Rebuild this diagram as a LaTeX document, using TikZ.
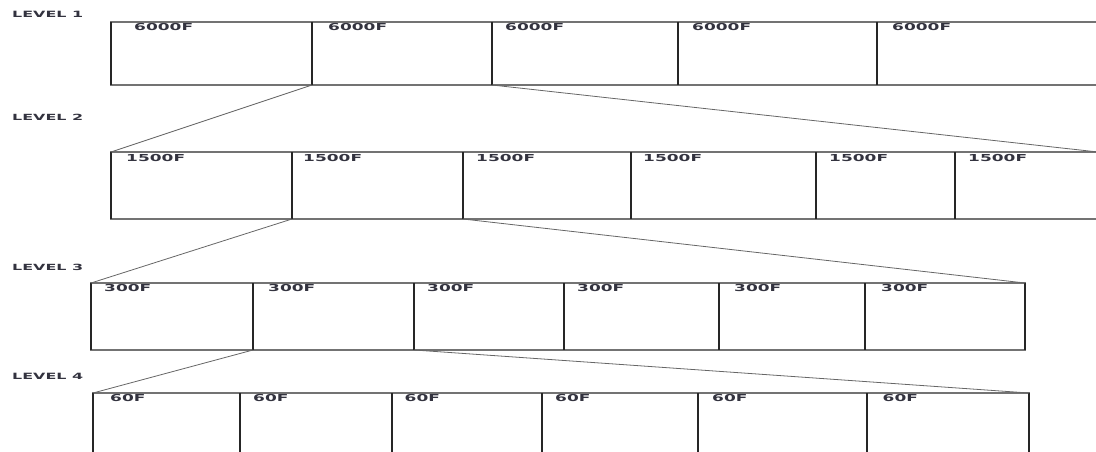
\documentclass[tikz,border=0pt]{standalone}
\usepackage{fontspec}
\usepackage{graphicx}
\newfontfamily\lf{DejaVu Sans}
\definecolor{txt}{HTML}{33333F}
\begin{document}
\begin{tikzpicture}[x=1pt,y=-1pt,
  cell/.style={draw=black!55,line width=1.2pt,rectangle,inner sep=0pt,outer sep=0pt,anchor=north west},
  sep/.style={draw=black!85,line width=1.7pt},
  conn/.style={draw=black!60,line width=0.8pt},
  num/.style={anchor=base west,inner sep=0pt,text=txt,font=\lf\bfseries\fontsize{9.6}{10}\selectfont},
  lvl/.style={anchor=west,inner sep=0pt,text=txt,font=\lf\bfseries\fontsize{8}{9}\selectfont}]
\useasboundingbox (0,0) rectangle (1096,452);
\clip (0,0) rectangle (1096,452);
% level labels
\node[lvl] (L1) at (12,14) {\resizebox{71pt}{6.3pt}{LEVEL 1}};
\node[lvl] (L2) at (12,117.3) {\resizebox{71pt}{6.3pt}{LEVEL 2}};
\node[lvl] (L3) at (12,267.3) {\resizebox{71pt}{6.3pt}{LEVEL 3}};
\node[lvl] (L4) at (12,376.7) {\resizebox{71pt}{6.3pt}{LEVEL 4}};
% level 1
\foreach \x/\nx/\o [count=\i] in {111/312/23, 312/492/16, 492/678/13, 678/877/14, 877/1098/15}{
  \node[cell,minimum width={\nx-\x},minimum height=63] (r1c\i) at (\x,22) {};
  \node[num] (t1c\i) at ([xshift=\o pt,yshift=-9pt]r1c\i.north west) {\scalebox{1.77}[1]{6000F}};
  \draw[sep] (r1c\i.north west) -- (r1c\i.south west);
}
% level 2
\foreach \x/\nx/\o [count=\i] in {111/292/15, 292/463/11, 463/631/13, 631/816/12, 816/955/13, 955/1098/13}{
  \node[cell,minimum width={\nx-\x},minimum height=67] (r2c\i) at (\x,152) {};
  \node[num] (t2c\i) at ([xshift=\o pt,yshift=-9.5pt]r2c\i.north west) {\scalebox{1.77}[1]{1500F}};
  \draw[sep] (r2c\i.north west) -- (r2c\i.south west);
}
% level 3
\foreach \x/\nx/\o [count=\i] in {91/253/13, 253/414/15, 414/564/13, 564/719/13, 719/865/15, 865/1025/16}{
  \node[cell,minimum width={\nx-\x},minimum height=67] (r3c\i) at (\x,283) {};
  \node[num] (t3c\i) at ([xshift=\o pt,yshift=-8.5pt]r3c\i.north west) {\scalebox{1.77}[1]{300F}};
  \draw[sep] (r3c\i.north west) -- (r3c\i.south west);
}
\draw[sep] (r3c6.north east) -- (r3c6.south east);
% level 4
\foreach \x/\nx/\o [count=\i] in {93/240/17, 240/392/13, 392/542/12.5, 542/698/13, 698/867/14, 867/1029/15.5}{
  \node[cell,minimum width={\nx-\x},minimum height=70] (r4c\i) at (\x,393) {};
  \node[num] (t4c\i) at ([xshift=\o pt,yshift=-8.5pt]r4c\i.north west) {\scalebox{1.77}[1]{60F}};
  \draw[sep] (r4c\i.north west) -- (r4c\i.south west);
}
\draw[sep] (r4c6.north east) -- (r4c6.south east);
% connectors
\draw[conn] (r1c2.south west) -- (r2c1.north west);
\draw[conn] (r1c3.south west) -- (r2c6.north east);
\draw[conn] (r2c2.south west) -- (r3c1.north west);
\draw[conn] (r2c3.south west) -- (r3c6.north east);
\draw[conn] (r3c2.south west) -- (r4c1.north west);
\draw[conn] (r3c3.south west) -- (r4c6.north east);
\end{tikzpicture}
\end{document}
